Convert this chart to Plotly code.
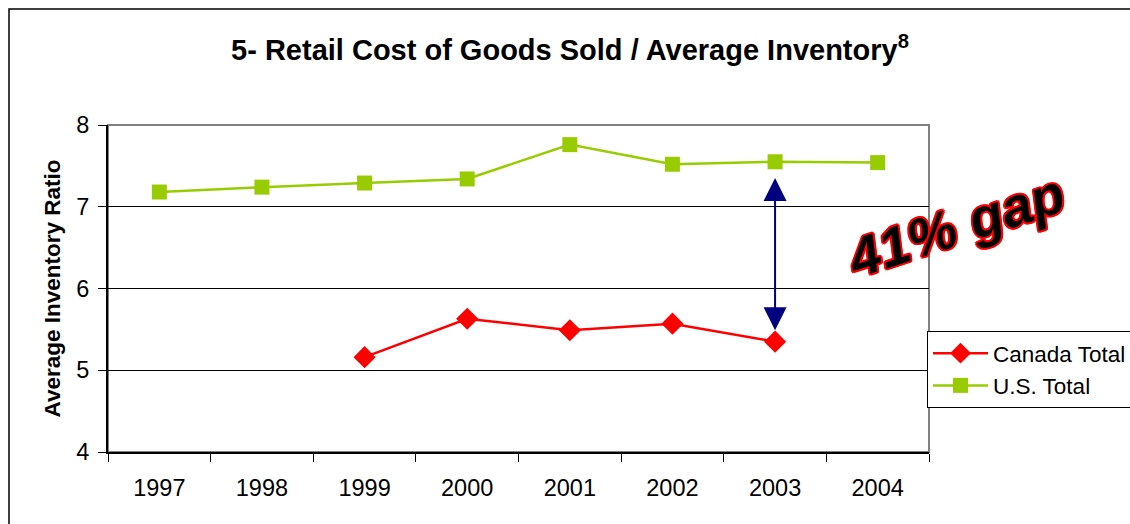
import plotly.graph_objects as go

# ---- data ----
years = ["1997", "1998", "1999", "2000", "2001", "2002", "2003", "2004"]
us_total = [7.18, 7.24, 7.29, 7.34, 7.76, 7.52, 7.55, 7.54]
canada_total = [None, None, 5.16, 5.63, 5.49, 5.57, 5.35, None]
y_ticks = [4, 5, 6, 7, 8]

# gap arrow drawn at 2003 between the two series
gap_year = "2003"
gap_top = 7.37
gap_bottom = 5.49
gap_label = "41% gap"

W, H = 1130, 524
L, R, T, B = 108, 1130 - 929, 125, 524 - 452
PW, PH = W - L - R, H - T - B


def px_x(x):
    return (x - L) / PW


def px_y(y):
    return (H - B - y) / PH


FONT = "Liberation Sans, Arial, sans-serif"

fig = go.Figure()
fig.add_trace(go.Scatter(
    x=years, y=canada_total, name="Canada Total", mode="lines+markers",
    line=dict(color="#FF0000", width=2.5),
    marker=dict(symbol="diamond", size=17, color="#FF0000"),
    connectgaps=False,
))
fig.add_trace(go.Scatter(
    x=years, y=us_total, name="U.S. Total", mode="lines+markers",
    line=dict(color="#99CC00", width=2.5),
    marker=dict(symbol="square", size=15, color="#99CC00"),
))

fig.update_layout(
    width=W, height=H,
    margin=dict(l=L, r=R, t=T, b=B, autoexpand=False),
    paper_bgcolor="white", plot_bgcolor="white",
    font=dict(family=FONT, size=23, color="black"),
    title=dict(
        text="<b>5- Retail Cost of Goods Sold / Average Inventory<sup>8</sup></b>",
        font=dict(size=29, family=FONT, color="black"),
        x=570 / W, xref="container", xanchor="center",
        y=1 - 50 / H, yref="container", yanchor="middle",
    ),
    xaxis=dict(
        type="category", categoryorder="array", categoryarray=years,
        range=[-0.5, len(years) - 0.5],
        showline=True, linecolor="black", linewidth=2,
        ticks="outside", tickson="boundaries", ticklen=8, tickcolor="black", tickwidth=1,
        showgrid=False, zeroline=False,
        tickfont=dict(size=23.5, family=FONT, color="black"),
        ticklabelstandoff=14,
    ),
    yaxis=dict(
        range=[4, 8], tickvals=y_ticks,
        showline=True, linecolor="black", linewidth=2,
        ticks="outside", ticklen=8, tickcolor="black", tickwidth=1,
        showgrid=True, gridcolor="black", gridwidth=1, zeroline=False,
        tickfont=dict(size=23.5, family=FONT, color="black"),
        ticklabelstandoff=4,
    ),
    legend=dict(
        x=px_x(927), y=px_y(331), xanchor="left", yanchor="top",
        bordercolor="black", borderwidth=1, bgcolor="white",
        font=dict(size=22.5, family=FONT, color="black"),
        itemwidth=55,
    ),
    showlegend=True,
)

shapes = [
    # plot area frame (top/right edges grey)
    dict(type="rect", xref="paper", yref="paper", x0=0, x1=1, y0=0, y1=1,
         line=dict(color="#808080", width=2), layer="below"),
    # outer chart border
    dict(type="rect", xref="paper", yref="paper",
         x0=px_x(9), x1=px_x(1140), y0=px_y(530), y1=px_y(9),
         line=dict(color="black", width=1.5), layer="below"),
]
fig.update_layout(shapes=shapes)

gap_idx = years.index(gap_year)
annotations = [
    dict(text="<b>Average Inventory Ratio</b>", textangle=-90,
         xref="paper", yref="paper", x=px_x(52), y=0.5,
         xanchor="center", yanchor="middle", showarrow=False,
         font=dict(size=22.5, family=FONT, color="black")),
    dict(x=gap_idx, y=gap_bottom, ax=gap_idx, ay=gap_top,
         xref="x", yref="y", axref="x", ayref="y",
         showarrow=True, arrowside="end+start",
         arrowhead=2, startarrowhead=2, arrowsize=2.3, startarrowsize=2.3,
         arrowwidth=2, arrowcolor="#000080", text=""),
    dict(text="<b><i>" + gap_label + "</i></b>",
         xref="paper", yref="paper", x=px_x(956), y=px_y(226),
         xanchor="center", yanchor="middle", showarrow=False, textangle=-18,
         font=dict(size=55, family=FONT,
                   color="black",
                   shadow="2px 0 0 #FF0000, -2px 0 0 #FF0000, 0 2px 0 #FF0000, 0 -2px 0 #FF0000, "
                          "1.5px 1.5px 0 #FF0000, -1.5px -1.5px 0 #FF0000, 1.5px -1.5px 0 #FF0000, -1.5px 1.5px 0 #FF0000")),
]
fig.update_layout(annotations=annotations)

fig.write_html("out.html")
